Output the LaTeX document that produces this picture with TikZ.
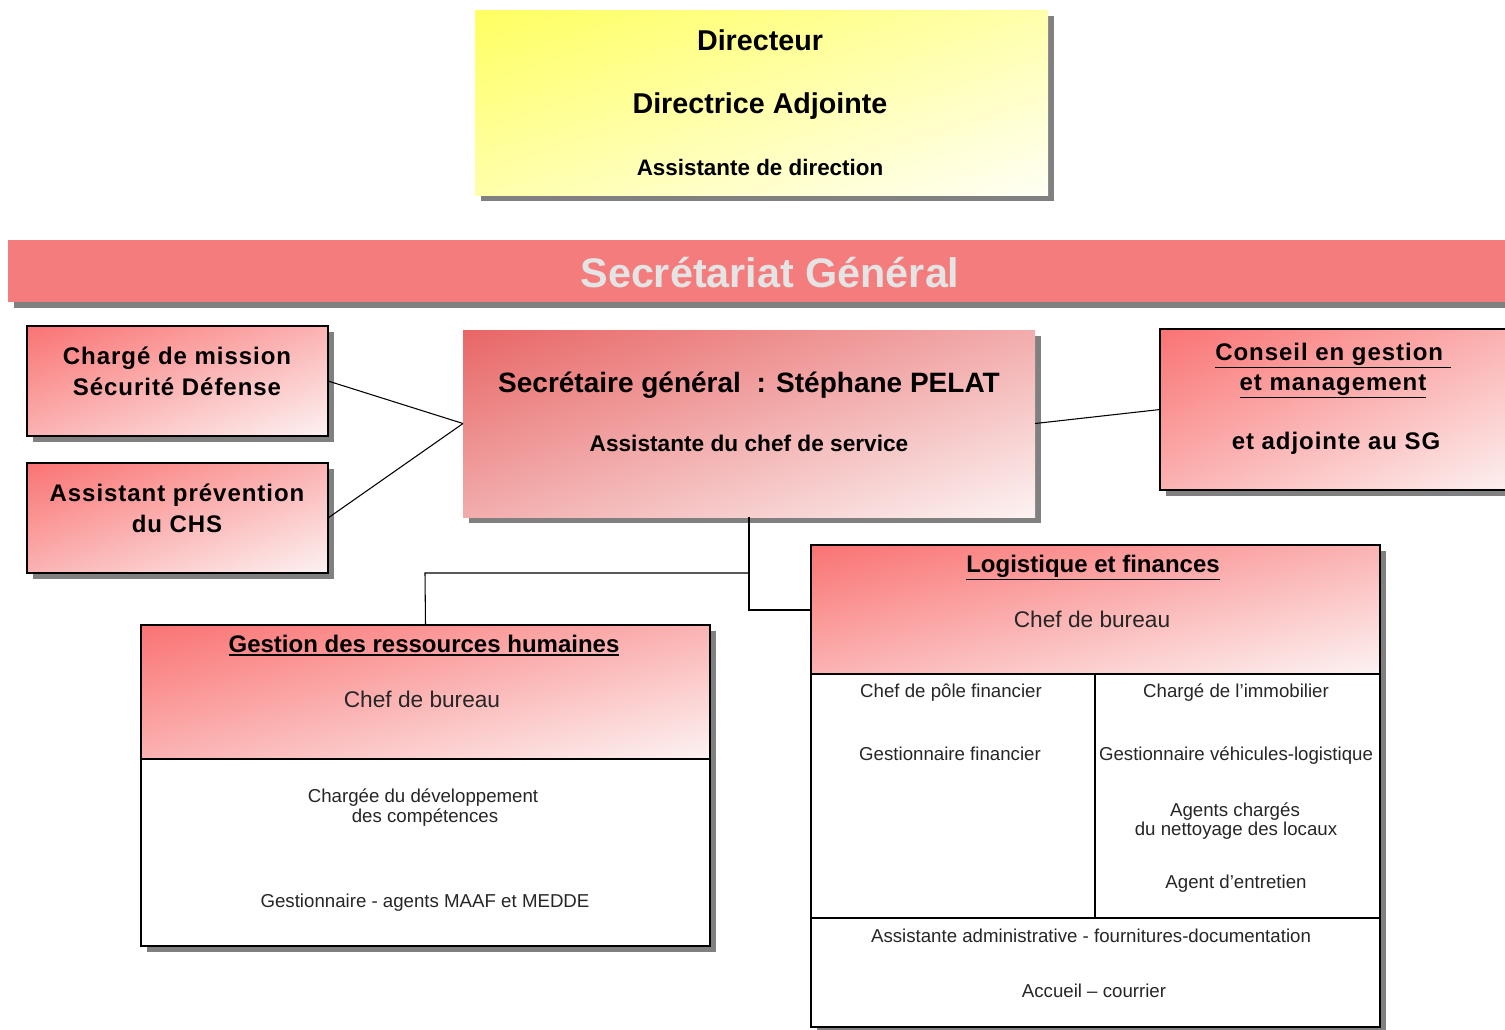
\documentclass[tikz,border=0pt]{standalone}
\usepackage{fontspec}
\setmainfont{Liberation Sans}
\newfontfamily\widefont[LetterSpace=4]{Liberation Sans}
\usetikzlibrary{shadows,fit,calc}
\definecolor{bannerred}{RGB}{244,124,124}
\definecolor{bannertext}{RGB}{228,228,228}
\definecolor{shadowgray}{RGB}{128,128,128}
% diagonal gradients: top-left -> bottom-right
\pgfdeclarefunctionalshading{diagred}{\pgfpointorigin}{\pgfpoint{100bp}{100bp}}{}{
  sub 50 add 100 div dup 0 lt {pop 0} if dup 1 gt {pop 1} if
  dup 0.01 mul 0.98 add exch
  dup 0.50 mul 0.45 add exch
  0.50 mul 0.45 add
}
\pgfdeclarefunctionalshading{diagredc}{\pgfpointorigin}{\pgfpoint{100bp}{100bp}}{}{
  sub 50 add 100 div dup 0 lt {pop 0} if dup 1 gt {pop 1} if
  dup 0.08 mul 0.91 add exch
  dup 0.55 mul 0.40 add exch
  0.55 mul 0.40 add
}
\pgfdeclarefunctionalshading{diagyel}{\pgfpointorigin}{\pgfpoint{100bp}{100bp}}{}{
  sub 50 add 100 div dup 0 lt {pop 0} if dup 1 gt {pop 1} if
  dup 0.0 mul 1 add exch
  dup 0.0 mul 1 add exch
  0.58 mul 0.38 add
}
\newcommand\myul[1]{\setbox0=\hbox{#1}\rlap{\raisebox{\dimexpr-\dp0-2.5pt\relax}{\rule{\wd0}{1.1pt}}}\box0}
\begin{document}
\begin{tikzpicture}[x=0.75pt,y=-0.75pt,
  hardshadow/.style={general shadow={fill=shadowgray, shadow xshift=4.5pt, shadow yshift=-4.5pt}},
  boxbase/.style={inner sep=0pt, outer sep=0pt},
  yellowbox/.style={boxbase, hardshadow, shading=diagyel},
  pinkbox/.style={boxbase, hardshadow, draw=black, line width=1pt, shading=diagred},
  pinkplain/.style={boxbase, hardshadow, shading=diagredc},
  whitebox/.style={boxbase, hardshadow, draw=black, line width=1pt, fill=white},
  headbox/.style={boxbase, draw=black, line width=1pt, shading=diagred},
  conn/.style={draw=black, line width=0.8pt},
  rule/.style={draw=black, line width=1pt},
  txt/.style={anchor=base, inner sep=0pt, text=black},
  bigbf/.style={txt, font=\bfseries\fontsize{21.5}{26}\selectfont},
  midbf/.style={txt, font=\bfseries\fontsize{16.8}{20}\selectfont},
  widebf/.style={txt, font=\widefont\bfseries\fontsize{18}{22}\selectfont},
  titlebf/.style={txt, font=\bfseries\fontsize{18}{22}\selectfont},
  chef/.style={txt, font=\fontsize{17}{20}\selectfont, text=black!85},
  small/.style={txt, font=\fontsize{14}{17}\selectfont, text=black!85}]
\useasboundingbox (0,0) rectangle (1505,1029);
\clip (0,0) rectangle (1505,1029);

% Direction
\node[yellowbox, fit={(475,10) (1048,195)}] (dir) {};
\node[bigbf] (dirt1) at (760,50) {Directeur};
\node[bigbf] (dirt2) at (760,113) {Directrice Adjointe};
\node[midbf] (dirt3) at (760,175) {Assistante de direction};

% Banner
\node[boxbase, hardshadow, fill=bannerred, fit={(8,240) (1520,302)}] (banner) {};
\node[txt, font=\bfseries\fontsize{31}{36}\selectfont, text=bannertext] (bannert) at (770,287) {Secrétariat Général};

% Left boxes
\node[pinkbox, fit={(27,326) (328,436)}] (cm) {};
\node[widebf] (cmt1) at (177,364) {Chargé de mission};
\node[widebf] (cmt2) at (177,395) {Sécurité Défense};
\node[pinkbox, fit={(27,463) (328,573)}] (ap) {};
\node[widebf] (apt1) at (177,501) {Assistant prévention};
\node[widebf] (apt2) at (177,532) {du CHS};

% Secretaire general
\node[pinkplain, fit={(463,330) (1035,517)}] (sg) {};
\node[txt, font=\bfseries\fontsize{21}{25}\selectfont] (sgt1) at (749,392) {Secrétaire général \ : Stéphane PELAT};
\node[txt, font=\bfseries\fontsize{17}{20}\selectfont] (sgt2) at (749,451) {Assistante du chef de service};

% Conseil
\node[pinkbox, fit={(1160,329) (1520,490)}] (cg) {};
\node[widebf] (cgt1) at (1333,360) {\myul{Conseil en gestion\ }};
\node[widebf] (cgt2) at (1333,390) {\myul{et management}};
\node[widebf] (cgt3) at (1336,449) {et adjointe au SG};

% connectors
\draw[conn] (cm.east) -- (sg.west);
\draw[conn] (ap.east) -- (sg.west);
\draw[conn] (sg.east) -- (cg.west);

% GRH
\node[whitebox, fit={(141,625) (710,946)}] (grh) {};
\node[headbox, fit={(141,625) (710,759)}] (grhh) {};
\node[titlebf] (grht1) at (424,652) {\myul{Gestion des ressources humaines}};
\node[chef] (grht2) at (422,707) {Chef de bureau};
\node[small] (grht3) at (423,802) {Chargée du développement};
\node[small] (grht4) at (425,822) {des compétences};
\node[small] (grht5) at (425,907) {Gestionnaire - agents MAAF et MEDDE};

% LF
\node[whitebox, fit={(811,545) (1380,1027)}] (lf) {};
\node[headbox, fit={(811,545) (1380,674)}] (lfh) {};
\coordinate (lfa) at (1095,674);
\coordinate (lfb) at (1095,918);
\draw[rule] (lfa) -- (lfb);
\draw[rule] (lf.west |- lfb) -- (lf.east |- lfb);
\node[titlebf] (lft1) at (1093,572) {\myul{Logistique et finances}};
\node[chef] (lft2) at (1092,627) {Chef de bureau};
\node[small] (lft3) at (951,697) {Chef de pôle financier};
\node[small] (lft4) at (950,760) {Gestionnaire financier};
\node[small] (lft5) at (1236,697) {Chargé de l'immobilier};
\node[small] (lft6) at (1236,760) {Gestionnaire véhicules-logistique};
\node[small] (lft7) at (1235,816) {Agents chargés};
\node[small] (lft8) at (1236,835) {du nettoyage des locaux};
\node[small] (lft9) at (1236,888) {Agent d'entretien};
\node[small] (lft10) at (1091,942) {Assistante administrative - fournitures-documentation};
\node[small] (lft11) at (1094,997) {Accueil – courrier};

% tree connectors
\coordinate (jgrh) at (425,573);
\coordinate (jlf) at (811,610);
\draw[conn] (sg.south) |- (jgrh) -- (grh.north);
\draw[conn] (sg.south) |- (jlf);
\end{tikzpicture}
\end{document}
